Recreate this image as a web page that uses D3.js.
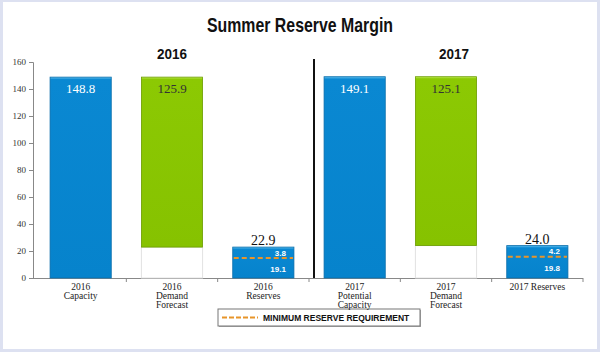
<!DOCTYPE html>
<html><head><meta charset="utf-8">
<script src="https://cdn.jsdelivr.net/npm/d3@7"></script>
<style>body{margin:0;background:#fff}svg{display:block}</style>
</head><body>
<script>
const categories = [["2016","Capacity"],["2016","Demand","Forecast"],["2016","Reserves"],["2017","Potential","Capacity"],["2017","Demand","Forecast"],["2017 Reserves"]];
const years = ["2016","2017"];
const capacity = [148.8, 149.1];
const demand = [125.9, 125.1];
const reserves = [22.9, 24.0];
const minReserve = [19.1, 19.8];
const aboveMin = [3.8, 4.2];
const minReqLine = [14.8, 15.8];
const yTicks = [0,20,40,60,80,100,120,140,160];
const title = "Summer Reserve Margin";
const legendLabel = "MINIMUM RESERVE REQUIREMENT";

const W=600,H=352;
const svg=d3.select("body").append("svg").attr("width",W).attr("height",H);
svg.append("rect").attr("width",W).attr("height",H).attr("fill","#dde1f1");
svg.append("rect").attr("x",3).attr("y",2).attr("width",594).attr("height",347).attr("fill","#fff");

const defs=svg.append("defs");
function grad(id,c1,c2,c3){
  const g=defs.append("linearGradient").attr("id",id).attr("x1",0).attr("x2",0).attr("y1",0).attr("y2",1);
  g.append("stop").attr("offset","0%").attr("stop-color",c1);
  g.append("stop").attr("offset","1.2%").attr("stop-color",c2);
  g.append("stop").attr("offset","100%").attr("stop-color",c3);
}
grad("gb","#5fc0f0","#0a88d2","#0683cc");
grad("gg","#c4ef5a","#8cc903","#86c200");
const gs=defs.append("linearGradient").attr("id","gbs").attr("x1",0).attr("x2",0).attr("y1",0).attr("y2",1);
gs.append("stop").attr("offset","0%").attr("stop-color","#5fc0f0");
gs.append("stop").attr("offset","7%").attr("stop-color","#0a88d2");
gs.append("stop").attr("offset","100%").attr("stop-color","#0683cc");

const y=d3.scaleLinear().domain([0,160]).range([278,62]);
const x=d3.scaleBand().domain(d3.range(categories.length)).range([35,583]).paddingInner(0.33).paddingOuter(0.165);
const bw=x.bandwidth();
const narrow="'Liberation Sans',Arial,sans-serif";
const serif="'Liberation Serif','Times New Roman',serif";

// title
svg.append("text").attr("x",207).attr("y",31.5)
  .attr("textLength",186).attr("lengthAdjust","spacingAndGlyphs")
  .style("font-family",narrow).style("font-weight","bold").style("font-size","21px").attr("fill","#111").text(title);
years.forEach((yr,i)=>{
  const cx=x(i*3+1)+bw/2+(i?8:0);
  svg.append("text").attr("x",cx-15).attr("y",58.5)
   .attr("textLength",30).attr("lengthAdjust","spacingAndGlyphs")
   .style("font-family",narrow).style("font-weight","bold").style("font-size","15.5px").attr("fill","#111").text(yr);
});

// y axis
const ya=svg.append("g").attr("transform","translate(33,0)").call(d3.axisLeft(y).tickValues(yTicks).tickSize(4).tickPadding(3));
ya.select(".domain").attr("stroke","#888");
ya.selectAll(".tick line").attr("stroke","#888");
ya.selectAll("text").style("font-family",serif).style("font-size","9px").attr("fill","#333");

// x axis line + ticks at boundaries
svg.append("line").attr("x1",33).attr("x2",583).attr("y1",278.5).attr("y2",278.5).attr("stroke","#888");
d3.range(1,categories.length+1).forEach(k=>{
  const bx=x.range()[0]+x.step()*k;
  svg.append("line").attr("x1",bx).attr("x2",bx).attr("y1",278).attr("y2",282).attr("stroke","#888");
});

// legend
svg.append("rect").attr("x",219).attr("y",310).attr("width",202).attr("height",17).attr("fill","#aaa");
svg.append("rect").attr("x",218).attr("y",309).attr("width",202).attr("height",17).attr("fill","#fff").attr("stroke","#777").attr("stroke-width",1);
svg.append("line").attr("x1",222).attr("x2",258).attr("y1",317.5).attr("y2",317.5).attr("stroke","#e8952a").attr("stroke-width",2).attr("stroke-dasharray","5,2");
svg.append("text").attr("x",263).attr("y",321).style("font-family",narrow).style("font-weight","bold").style("font-size","8.5px").attr("fill","#111").text(legendLabel);

// category labels
categories.forEach((lines,i)=>{
  const t=svg.append("text").attr("text-anchor","middle").style("font-family",serif).style("font-size","9.5px").attr("fill","#222");
  lines.forEach((l,j)=>t.append("tspan").attr("x",x(i)+bw/2).attr("y",290+j*9).text(l));
});

years.forEach((yr,i)=>{
  const ci=i*3, di=i*3+1, ri=i*3+2;
  // capacity
  svg.append("rect").attr("x",x(ci)).attr("y",y(capacity[i])).attr("width",bw).attr("height",y(0)-y(capacity[i]))
    .attr("fill","url(#gb)").attr("stroke","#0b6eab").attr("stroke-width",0.8);
  svg.append("text").attr("x",x(ci)+bw/2).attr("y",y(capacity[i])+16).attr("text-anchor","middle")
    .style("font-family",serif).style("font-size","13px").attr("fill","#fff").text(capacity[i].toFixed(1));
  // demand: floating from reserves to capacity
  svg.append("rect").attr("x",x(di)).attr("y",y(reserves[i])).attr("width",bw).attr("height",y(0)-y(reserves[i]))
    .attr("fill","#fff").attr("stroke","#e2e2e2").attr("stroke-width",1);
  svg.append("rect").attr("x",x(di)).attr("y",y(reserves[i]+demand[i])).attr("width",bw).attr("height",y(reserves[i])-y(reserves[i]+demand[i]))
    .attr("fill","url(#gg)").attr("stroke","#6b9c00").attr("stroke-width",0.8);
  svg.append("text").attr("x",x(di)+bw/2).attr("y",y(reserves[i]+demand[i])+16).attr("text-anchor","middle")
    .style("font-family",serif).style("font-size","13px").attr("fill","#333").text(demand[i].toFixed(1));
  // reserves
  svg.append("rect").attr("x",x(ri)).attr("y",y(reserves[i])).attr("width",bw).attr("height",y(0)-y(reserves[i]))
    .attr("fill","url(#gbs)").attr("stroke","#0b6eab").attr("stroke-width",0.8);
  svg.append("line").attr("x1",x(ri)+1).attr("x2",x(ri)+bw-1).attr("y1",y(minReqLine[i])).attr("y2",y(minReqLine[i]))
    .attr("stroke","#e8952a").attr("stroke-width",2).attr("stroke-dasharray","5,3");
  svg.append("text").attr("x",x(ri)+bw/2).attr("y",y(reserves[i])-2).attr("text-anchor","middle")
    .style("font-family",serif).style("font-size","14px").attr("fill","#111").text(reserves[i].toFixed(1));
  svg.append("text").attr("x",x(ri)+bw-8).attr("y",(y(reserves[i])+y(minReqLine[i]))/2+3).attr("text-anchor","end")
    .style("font-family",narrow).style("font-weight","bold").style("font-size","8px").attr("fill","#fff").text(aboveMin[i].toFixed(1));
  svg.append("text").attr("x",x(ri)+bw-8).attr("y",(y(minReqLine[i])+y(0))/2+4).attr("text-anchor","end")
    .style("font-family",narrow).style("font-weight","bold").style("font-size","8px").attr("fill","#fff").text(minReserve[i].toFixed(1));
});

// divider
svg.append("line").attr("x1",314).attr("x2",314).attr("y1",59).attr("y2",278).attr("stroke","#111").attr("stroke-width",2);
</script>
</body></html>
